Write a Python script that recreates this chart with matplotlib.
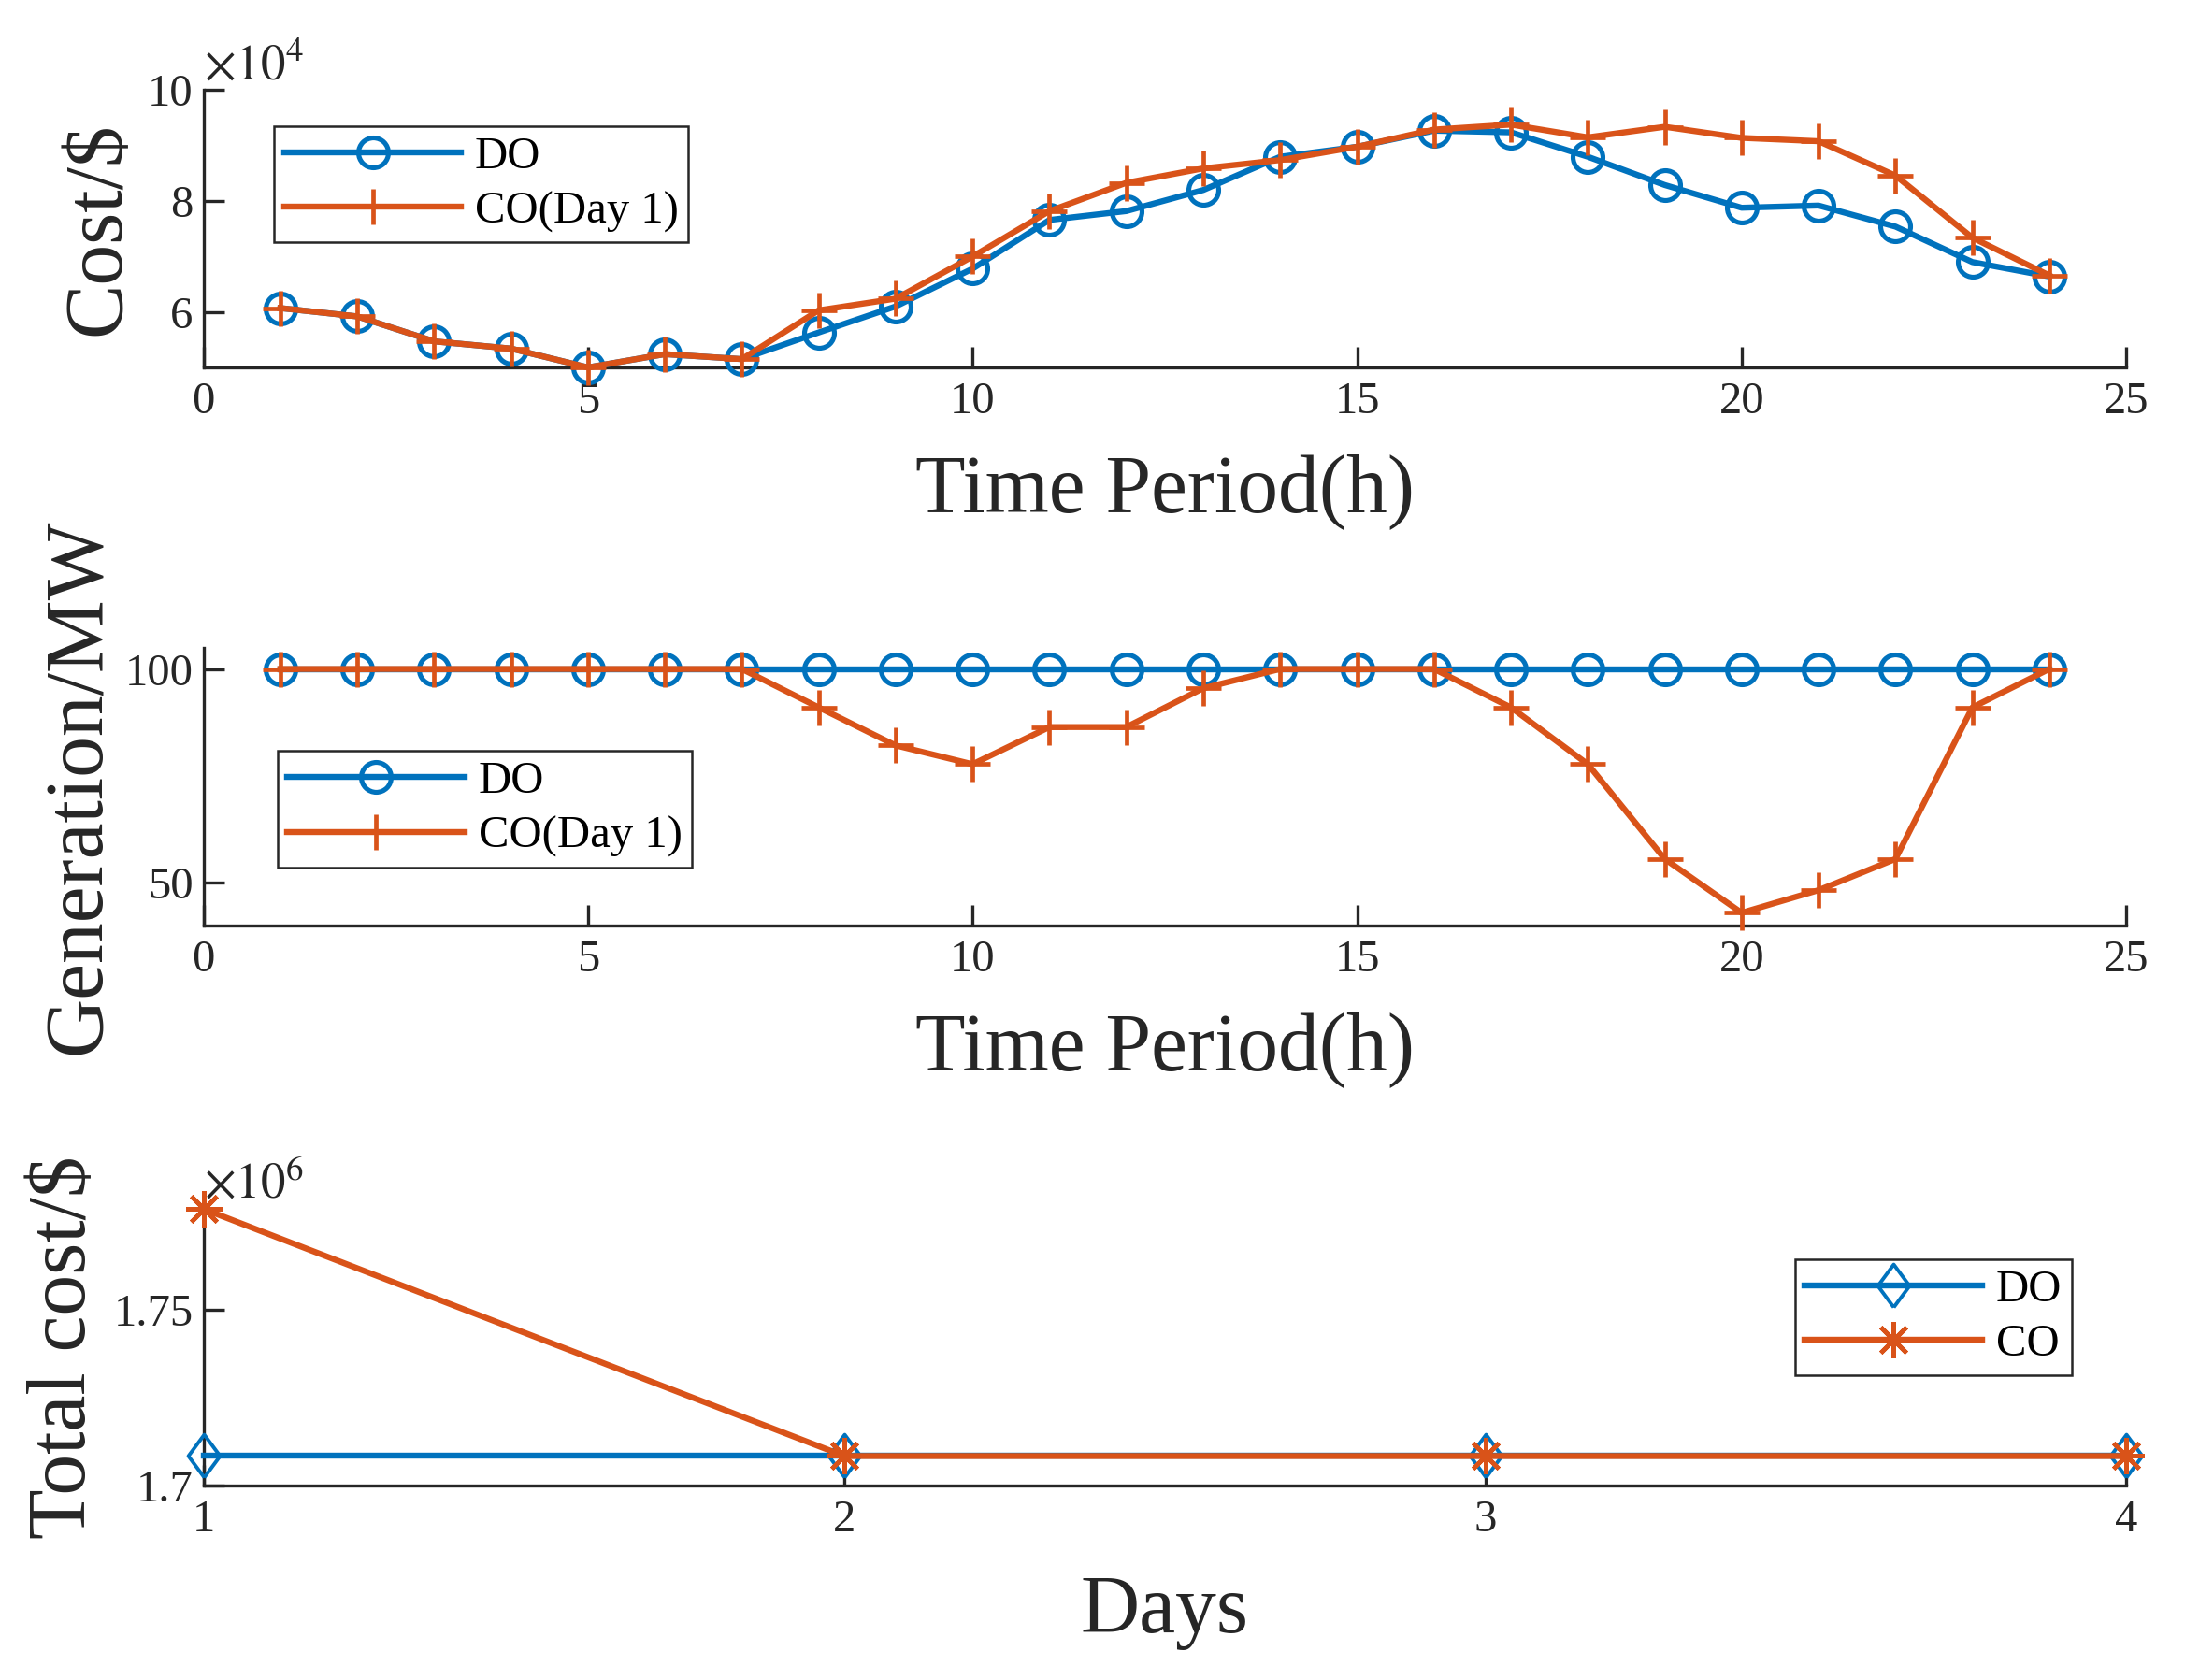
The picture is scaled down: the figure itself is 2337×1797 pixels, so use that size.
import matplotlib
matplotlib.use("Agg")
import matplotlib.pyplot as plt
from matplotlib.ticker import FixedLocator

plt.rcParams['font.family'] = ['Liberation Serif', 'DejaVu Serif']
plt.rcParams['mathtext.fontset'] = 'stix'

# ---------------- data ----------------
hours = list(range(1, 25))
cost_do = [60700, 59200, 54700, 53400, 50000, 52400, 51500, 56300, 61000, 67800,
           76600, 78200, 82000, 88000, 89800, 92700, 92400, 88000, 82900, 78800,
           79200, 75400, 69000, 66400]
cost_co = [60700, 59200, 54700, 53400, 50000, 52400, 51500, 60300, 62400, 70000,
           78200, 83300, 85900, 87400, 89800, 92900, 93800, 91500, 93400, 91400,
           90800, 84600, 73400, 66600]
gen_do = [100] * 24
gen_co = [100, 100, 100, 100, 100, 100, 100, 91.0, 82.1, 77.7, 86.4, 86.4, 95.5,
          100, 100, 100, 91.0, 77.7, 55.5, 42.9, 48.2, 55.5, 91.0, 100]
days = [1, 2, 3, 4]
total_do = [1.7084e6, 1.7084e6, 1.7084e6, 1.7084e6]
total_co = [1.7786e6, 1.7084e6, 1.7084e6, 1.7084e6]

xticks_h = [0, 5, 10, 15, 20, 25]
yticks_cost = [6, 8, 10]
yticks_gen = [50, 100]
yticks_total = [1.7, 1.75]
ytick_labels_total = ['1.7', '1.75']

label_do = 'DO'
label_co_day = 'CO(Day 1)'
label_co = 'CO'

# ---------------- style ----------------
BLUE = '#0072BD'
ORANGE = '#D95319'
AXC = '#262626'
LW = 4.6
TICK_FS = 35
LABEL_FS = 63

fig = plt.figure(figsize=(23.37, 17.97), dpi=100)
ax1 = fig.add_axes([0.0931, 0.7813, 0.8800, 0.1650])
ax2 = fig.add_axes([0.0931, 0.4493, 0.8800, 0.1652])
ax3 = fig.add_axes([0.0931, 0.1157, 0.8800, 0.1647])


def style_axes(ax):
    for s in ['top', 'right']:
        ax.spines[s].set_visible(False)
    for s in ['left', 'bottom']:
        ax.spines[s].set_linewidth(2.4)
        ax.spines[s].set_color(AXC)
    ax.tick_params(direction='in', length=15.6, width=2.4, colors=AXC,
                   labelsize=TICK_FS)
    ax.tick_params(axis='x', pad=11)
    ax.tick_params(axis='y', pad=8)


def set_labels(ax, xl, yl, xly, ylx):
    lx = ax.set_xlabel(xl, fontsize=LABEL_FS, color=AXC)
    lx.set_va('baseline')
    ax.xaxis.set_label_coords(0.5, xly)
    ly = ax.set_ylabel(yl, fontsize=LABEL_FS, color=AXC)
    ly.set_va('baseline')
    ax.yaxis.set_label_coords(ylx, 0.5)


def add_legend(ax, loc, anchor):
    leg = ax.legend(loc=loc, bbox_to_anchor=anchor, borderaxespad=0,
                    fontsize=TICK_FS, handlelength=3.9, handletextpad=0.3,
                    borderpad=0.22, labelspacing=0.3, frameon=True,
                    fancybox=False, edgecolor=AXC, framealpha=1)
    leg.get_frame().set_linewidth(1.8)
    for t in leg.get_texts():
        t.set_color('black')
    return leg


# ---- panel 1: hourly cost ----
ax1.plot(hours, [v / 1e4 for v in cost_do], color=BLUE, lw=LW, marker='o',
         ms=23, mew=3.7, mfc='none', label=label_do, clip_on=False, zorder=3)
ax1.plot(hours, [v / 1e4 for v in cost_co], color=ORANGE, lw=LW, marker='+',
         ms=27, mew=3.4, label=label_co_day, clip_on=False, zorder=4)
ax1.set_xlim(0, 25)
ax1.set_ylim(5, 10)
ax1.xaxis.set_major_locator(FixedLocator(xticks_h))
ax1.yaxis.set_major_locator(FixedLocator(yticks_cost))
style_axes(ax1)
set_labels(ax1, 'Time Period(h)', 'Cost/$', -0.519, -0.0436)
ax1.text(0.0, 1.039, r'$\times10^{4}$', transform=ax1.transAxes,
         fontsize=38, color=AXC, ha='left', va='baseline')
add_legend(ax1, 'upper left', (0.0367, 0.8707))

# ---- panel 2: generation ----
ax2.plot(hours, gen_do, color=BLUE, lw=LW, marker='o', ms=23, mew=3.7,
         mfc='none', label=label_do, clip_on=False, zorder=3)
ax2.plot(hours, gen_co, color=ORANGE, lw=LW, marker='+', ms=27, mew=3.4,
         label=label_co_day, clip_on=False, zorder=4)
ax2.set_xlim(0, 25)
ax2.set_ylim(40, 105)
ax2.xaxis.set_major_locator(FixedLocator(xticks_h))
ax2.yaxis.set_major_locator(FixedLocator(yticks_gen))
style_axes(ax2)
set_labels(ax2, 'Time Period(h)', 'Generation/MW', -0.519, -0.0540)
add_legend(ax2, 'upper left', (0.0385, 0.6275))

# ---- panel 3: total cost ----
diamond = [(0, -1), (0.74, 0), (0, 1), (-0.74, 0), (0, -1)]
ax3.plot(days, [v / 1e6 for v in total_do], color=BLUE, lw=LW, marker=diamond,
         ms=33, mew=2.8, mfc='none', label=label_do, clip_on=False, zorder=3)
ax3.plot(days, [v / 1e6 for v in total_co], color=ORANGE, lw=LW,
         marker=(8, 2, 0), ms=28, mew=3.4, label=label_co, clip_on=False,
         zorder=4)
ax3.set_xlim(1, 4)
ax3.set_ylim(1.7, max(total_co) / 1e6)
ax3.xaxis.set_major_locator(FixedLocator(days))
ax3.yaxis.set_major_locator(FixedLocator(yticks_total))
ax3.set_yticklabels(ytick_labels_total)
style_axes(ax3)
set_labels(ax3, 'Days', 'Total cost/$', -0.530, -0.0615)
ax3.text(0.0, 1.0395, r'$\times10^{6}$', transform=ax3.transAxes,
         fontsize=38, color=AXC, ha='left', va='baseline')
add_legend(ax3, 'upper right', (0.9716, 0.8186))

fig.savefig('out.png', dpi=100)
